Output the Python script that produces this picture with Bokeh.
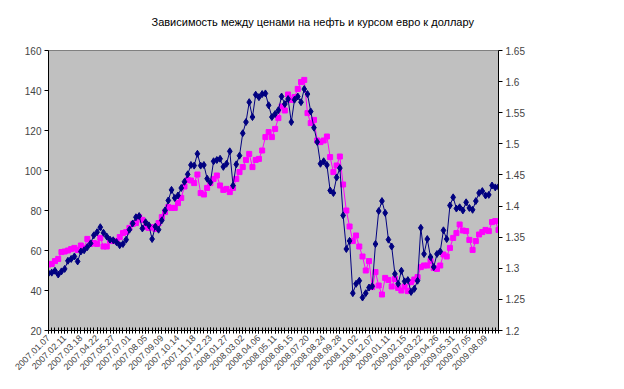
import math
from bokeh.plotting import figure
from bokeh.models import (Range1d, LinearAxis, FixedTicker, CustomJSTickFormatter,
                          Legend, LegendItem, ColumnDataSource)
from bokeh.embed import file_html
from bokeh.resources import INLINE

# ---------------- data ----------------
week_index = list(range(140))

oil_price = [
    53.0, 53.3, 54.7, 55.8, 59.2, 59.5, 60.0, 60.7, 61.3, 60.3,
    62.5, 61.3, 65.8, 63.3, 63.7, 63.3, 66.3, 62.0, 62.0, 65.0,
    64.7, 64.7, 66.7, 68.7, 69.2, 71.3, 73.3, 73.7, 76.7, 75.3,
    71.7, 71.3, 71.7, 70.8, 73.7, 76.7, 79.2, 81.7, 81.3, 81.3,
    83.7, 86.3, 92.0, 95.3, 95.0, 93.7, 98.0, 88.7, 88.0, 91.3,
    93.7, 95.8, 97.5, 92.5, 90.3, 90.8, 89.2, 91.3, 95.8, 99.2,
    101.7, 105.3, 108.3, 101.7, 105.3, 105.8, 110.0, 116.7, 119.2, 116.7,
    120.8, 126.2, 132.0, 130.0, 138.0, 135.3, 136.7, 140.8, 144.2, 145.3,
    128.7, 123.7, 125.3, 115.0, 114.2, 115.0, 117.0, 106.7, 99.2, 102.5,
    107.0, 93.0, 80.0, 72.0, 64.7, 67.5, 62.0, 57.0, 50.0, 54.7,
    41.7, 49.2, 42.5, 38.0, 46.3, 45.3, 42.0, 45.8, 41.3, 40.0,
    42.0, 39.7, 44.2, 45.5, 46.7, 51.7, 52.5, 52.5, 54.7, 51.3,
    50.8, 52.5, 58.0, 57.0, 61.3, 66.3, 68.7, 73.0, 70.0, 69.7,
    65.3, 60.3, 64.7, 68.0, 69.2, 70.3, 69.7, 74.2, 74.7, 70.3,
]

eur_usd = [
    1.292, 1.293, 1.296, 1.290, 1.295, 1.299, 1.312, 1.315, 1.319, 1.311,
    1.327, 1.329, 1.334, 1.340, 1.353, 1.358, 1.366, 1.357, 1.351, 1.346,
    1.345, 1.342, 1.337, 1.339, 1.346, 1.362, 1.372, 1.382, 1.384, 1.364,
    1.374, 1.369, 1.347, 1.367, 1.362, 1.377, 1.393, 1.409, 1.426, 1.413,
    1.417, 1.429, 1.439, 1.451, 1.466, 1.465, 1.484, 1.465, 1.466, 1.444,
    1.438, 1.472, 1.474, 1.476, 1.463, 1.468, 1.488, 1.433, 1.467, 1.481,
    1.517, 1.535, 1.567, 1.543, 1.579, 1.575, 1.580, 1.581, 1.562, 1.543,
    1.548, 1.554, 1.576, 1.564, 1.572, 1.535, 1.571, 1.576, 1.567, 1.588,
    1.580, 1.552, 1.526, 1.503, 1.468, 1.472, 1.466, 1.425, 1.421, 1.446,
    1.461, 1.385, 1.331, 1.344, 1.260, 1.275, 1.280, 1.253, 1.260, 1.269,
    1.271, 1.339, 1.392, 1.408, 1.389, 1.346, 1.335, 1.291, 1.275, 1.296,
    1.279, 1.281, 1.262, 1.267, 1.280, 1.365, 1.323, 1.347, 1.318, 1.302,
    1.323, 1.327, 1.361, 1.347, 1.401, 1.414, 1.396, 1.398, 1.393, 1.406,
    1.397, 1.394, 1.408, 1.421, 1.424, 1.417, 1.418, 1.433, 1.430, 1.431,
]

date_labels = [
    "2007.01.07", "2007.02.11", "2007.03.18", "2007.04.22", "2007.05.27",
    "2007.07.01", "2007.08.05", "2007.09.09", "2007.10.14", "2007.11.18",
    "2007.12.23", "2008.01.27", "2008.03.02", "2008.04.06", "2008.05.11",
    "2008.06.15", "2008.07.20", "2008.08.24", "2008.09.28", "2008.11.02",
    "2008.12.07", "2009.01.11", "2009.02.15", "2009.03.22", "2009.04.26",
    "2009.05.31", "2009.07.05", "2009.08.09",
]
label_positions = list(range(0, 140, 5))

oil_ticks = [20, 40, 60, 80, 100, 120, 140, 160]
eur_ticks = [1.2, 1.25, 1.3, 1.35, 1.4, 1.45, 1.5, 1.55, 1.6, 1.65]

title_text = "Зависимость между ценами на нефть и курсом евро к доллару"
oil_name = "Цены на нефть"
eur_name = "EUR/USD"

FONT = "Liberation Sans"
OIL_COLOR = "#FF00FF"
EUR_COLOR = "#000080"

# ---------------- figure ----------------
p = figure(frame_width=450, frame_height=280,
           x_range=Range1d(0, len(week_index) - 1),
           y_range=Range1d(20, 160),
           output_backend="svg", toolbar_location=None,
           min_border_left=48, min_border_right=126,
           min_border_top=50, min_border_bottom=55)

p.extra_y_ranges = {"eur": Range1d(1.2, 1.65)}

p.background_fill_color = "#C0C0C0"
p.border_fill_color = "white"
p.outline_line_color = "#808080"
p.xgrid.visible = False
p.ygrid.visible = False

# second (blank) line reserves room so the first line sits higher above the plot
p.title.text = title_text + "\n\u00a0"
p.title.align = "left"
p.title.offset = 103
p.title.vertical_align = "top"
p.title.standoff = 18
p.title.text_font = FONT
p.title.text_font_size = "11px"
p.title.text_font_style = "normal"
p.title.text_color = "black"

# x axis
xa = p.xaxis[0]
xa.ticker = FixedTicker(ticks=label_positions, minor_ticks=week_index)
xa.major_label_overrides = {pos: lab for pos, lab in zip(label_positions, date_labels)}
xa.major_label_orientation = math.pi / 4
xa.major_label_text_font = FONT
xa.major_label_text_font_size = "9px"
xa.major_label_standoff = 3
xa.major_tick_in = 3
xa.major_tick_out = 3
xa.minor_tick_in = 3
xa.minor_tick_out = 3
xa.axis_line_color = "black"
xa.major_tick_line_color = "black"
xa.minor_tick_line_color = "black"

# left axis
ya = p.yaxis[0]
ya.ticker = FixedTicker(ticks=oil_ticks)
ya.major_label_text_font = FONT
ya.major_label_text_font_size = "10px"
ya.major_tick_in = 0
ya.major_tick_out = 4
ya.minor_tick_line_color = None
ya.major_label_standoff = 3
ya.axis_line_color = "black"
ya.major_tick_line_color = "black"

# right axis
ra = LinearAxis(y_range_name="eur",
                ticker=FixedTicker(ticks=eur_ticks),
                formatter=CustomJSTickFormatter(code="return tick.toString();"))
ra.major_label_text_font = FONT
ra.major_label_text_font_size = "10px"
ra.major_tick_in = 0
ra.major_tick_out = 4
ra.minor_tick_line_color = None
ra.major_label_standoff = 3
ra.axis_line_color = "black"
ra.major_tick_line_color = "black"
p.add_layout(ra, "right")

# ---------------- series ----------------
src = ColumnDataSource(dict(x=week_index, oil=oil_price, eur=eur_usd))

oil_line = p.line("x", "oil", source=src, line_color=OIL_COLOR, line_width=1)
oil_pts = p.scatter("x", "oil", source=src, marker="square", size=5,
                    fill_color=OIL_COLOR, line_color=OIL_COLOR)

eur_line = p.line("x", "eur", source=src, y_range_name="eur",
                  line_color=EUR_COLOR, line_width=1)
eur_pts = p.scatter("x", "eur", source=src, y_range_name="eur", marker="diamond",
                    size=7, fill_color=EUR_COLOR, line_color=EUR_COLOR)

legend = Legend(items=[LegendItem(label=oil_name, renderers=[oil_line, oil_pts]),
                       LegendItem(label=eur_name, renderers=[eur_line, eur_pts])],
                location=(483, 126), level="overlay")
legend.label_text_font = FONT
legend.label_text_font_size = "10px"
legend.glyph_width = 16
legend.glyph_height = 11
legend.label_height = 11
legend.label_standoff = 3
legend.padding = 3
legend.spacing = 2
legend.margin = 0
legend.border_line_color = "black"
legend.border_line_width = 1
legend.background_fill_color = "white"
legend.background_fill_alpha = 1.0
p.add_layout(legend, "center")

open("out.html", "w").write(file_html(p, INLINE))
